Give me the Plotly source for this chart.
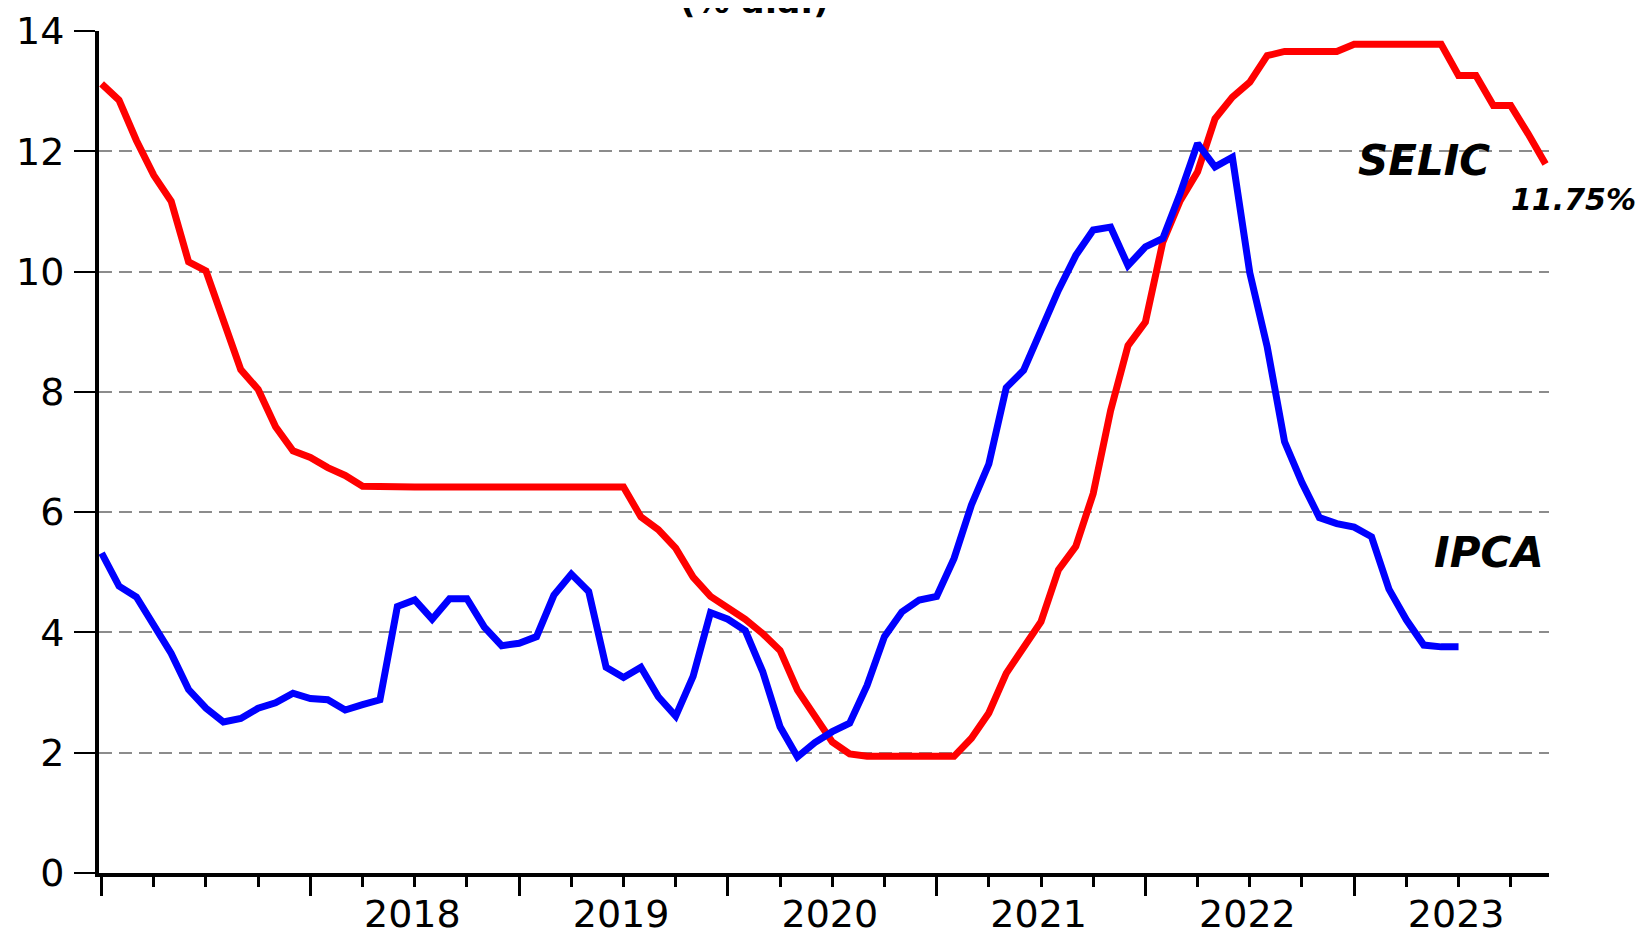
import plotly.graph_objects as go

# ---- data (monthly, Jan 2017 onward) ----
selic = [13.12, 12.85, 12.18, 11.60, 11.17, 10.16, 10.01, 9.19, 8.37, 8.04, 7.42, 7.02,
         6.91, 6.74, 6.61, 6.43, 6.42, 6.42, 6.42, 6.42, 6.42, 6.42, 6.42, 6.42,
         6.42, 6.42, 6.42, 6.42, 6.42, 6.42, 6.42, 5.92, 5.71, 5.40, 4.92, 4.60,
         4.42, 4.22, 3.98, 3.70, 3.04, 2.63, 2.18, 1.98, 1.94, 1.94, 1.94, 1.94,
         1.94, 1.94, 2.24, 2.66, 3.32, 3.77, 4.18, 5.04, 5.43, 6.31, 7.69, 8.77,
         9.16, 10.49, 11.18, 11.66, 12.54, 12.90, 13.15, 13.59, 13.66, 13.66, 13.66, 13.66,
         13.78, 13.78, 13.78, 13.78, 13.78, 13.78, 13.26, 13.26, 12.76, 12.76, 12.29, 11.79]

ipca = [5.32, 4.77, 4.59, 4.12, 3.65, 3.05, 2.74, 2.51, 2.57, 2.74, 2.83, 2.99,
        2.90, 2.88, 2.71, 2.80, 2.88, 4.43, 4.54, 4.22, 4.56, 4.56, 4.09, 3.78,
        3.82, 3.93, 4.62, 4.97, 4.68, 3.42, 3.25, 3.42, 2.93, 2.61, 3.27, 4.33,
        4.22, 4.03, 3.35, 2.43, 1.93, 2.17, 2.35, 2.49, 3.12, 3.93, 4.34, 4.54,
        4.60, 5.23, 6.12, 6.80, 8.07, 8.36, 9.02, 9.69, 10.27, 10.69, 10.74, 10.10,
        10.41, 10.55, 11.30, 12.13, 11.74, 11.90, 9.98, 8.75, 7.17, 6.49, 5.91, 5.81,
        5.75, 5.59, 4.72, 4.21, 3.79, 3.76, 3.76]

year_labels = ["", "2018", "2019", "2020", "2021", "2022", "2023"]
year_start_idx = [0, 12, 24, 36, 48, 60, 72]
quarter_idx = [q for q in range(0, 84, 3) if q % 12 != 0]
y_ticks = [0, 2, 4, 6, 8, 10, 12, 14]
grid_vals = [2, 4, 6, 8, 10, 12]

FONT = "DejaVu Sans"

fig = go.Figure()
fig.add_trace(go.Scatter(x=list(range(len(selic))), y=selic, mode="lines",
                         line=dict(color="#ff0000", width=7), name="SELIC",
                         cliponaxis=False))
fig.add_trace(go.Scatter(x=list(range(len(ipca))), y=ipca, mode="lines",
                         line=dict(color="#0000ff", width=7), name="IPCA",
                         cliponaxis=False))

# page has an 8px body margin, so the figure is offset to land where the reference is
fig.update_layout(
    width=1631, height=929, autosize=False,
    margin=dict(l=91, r=90, t=23, b=64),
    paper_bgcolor="white", plot_bgcolor="white",
    showlegend=False,
    font=dict(family=FONT, color="black"),
    xaxis=dict(
        range=[-0.15, 83.2], showline=True, linewidth=3.5, linecolor="black",
        automargin=False,
        ticks="outside", ticklen=19, tickwidth=2.5, tickcolor="black",
        tickvals=year_start_idx, ticktext=year_labels,
        ticklabelshift=102, ticklabelstandoff=-14,
        tickfont=dict(family=FONT, size=38, color="black"),
        showgrid=False, zeroline=False,
        minor=dict(tickvals=quarter_idx, ticks="outside", ticklen=10,
                   tickwidth=2.5, tickcolor="black", showgrid=False),
    ),
    yaxis=dict(
        range=[0, 14], showline=True, linewidth=4, linecolor="black",
        automargin=False,
        ticks="outside", ticklen=21, tickwidth=2, tickcolor="black",
        tickvals=y_ticks, ticklabelstandoff=2,
        tickfont=dict(family=FONT, size=38, color="black"),
        showgrid=False, zeroline=False,
        minor=dict(tickvals=grid_vals, ticks="", showgrid=True,
                   gridcolor="#8c8c8c", griddash="13px,7px", gridwidth=2),
    ),
)

lab_font = dict(family=FONT, size=42, color="black")
fig.add_annotation(x=76.0, y=11.85, text="<b><i>SELIC</i></b>", showarrow=False,
                   font=lab_font, xanchor="center", yanchor="middle")
fig.add_annotation(xref="paper", x=1.0172, y=11.20, text="<b><i>11.75%</i></b>",
                   showarrow=False, font=dict(family=FONT, size=30, color="black"),
                   xanchor="center", yanchor="middle")
fig.add_annotation(x=79.74, y=5.33, text="<b><i>IPCA</i></b>", showarrow=False,
                   font=lab_font, xanchor="center", yanchor="middle")
fig.add_annotation(xref="paper", yref="paper", x=0.452, y=1, yshift=30,
                   text="<b>(% a.a.)</b>", showarrow=False,
                   font=dict(family=FONT, size=34, color="black"),
                   xanchor="center", yanchor="middle")

fig.write_html("out.html")
